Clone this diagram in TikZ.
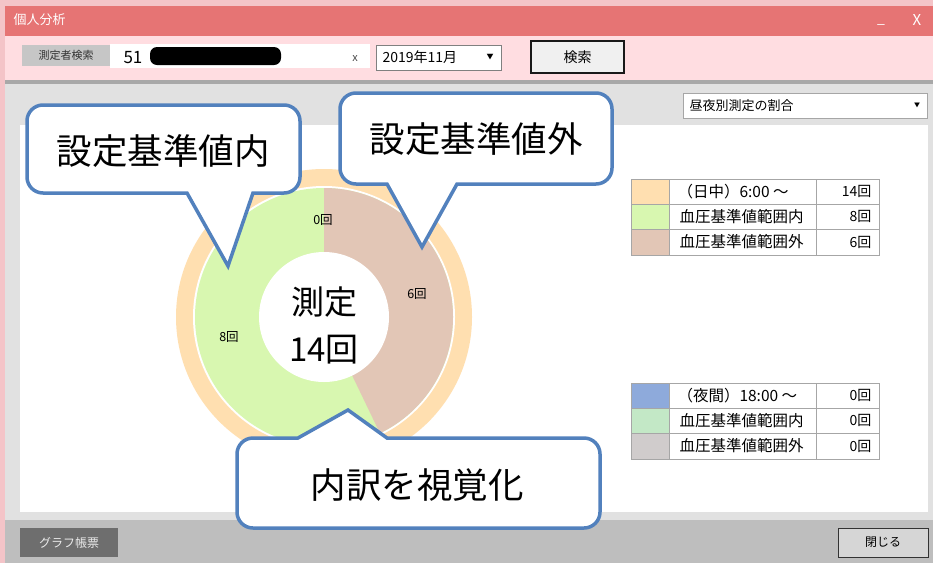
\documentclass[tikz,border=0pt]{standalone}
\usepackage{fontspec}
\setmainfont{Noto Sans CJK JP}
\newcommand{\setfs}[1]{\fontsize{#1}{#1}\selectfont}

\definecolor{framepink}{HTML}{F4C4C8}
\definecolor{titlered}{HTML}{E67474}
\definecolor{searchpink}{HTML}{FFDDE1}
\definecolor{sepgray}{HTML}{A8A8A8}
\definecolor{panelgray}{HTML}{E1E1E1}
\definecolor{bargray}{HTML}{BEBEBE}
\definecolor{ringorange}{HTML}{FFDFB0}
\definecolor{ingreen}{HTML}{D8F7B0}
\definecolor{outbrown}{HTML}{E2C6B6}
\definecolor{nightblue}{HTML}{8EAADB}
\definecolor{nightgreen}{HTML}{C3E8C6}
\definecolor{nightgray}{HTML}{D0CCCC}
\definecolor{calloutblue}{HTML}{5281BD}
\definecolor{gridgray}{HTML}{A6A6A6}

\begin{document}
\begin{tikzpicture}[x=1pt,y=-1pt,
  callout/.style={draw=calloutblue,line width=3.5pt,fill=white},
  bigtxt/.style={font=\setfs{35.5}},
  legtxt/.style={font=\setfs{15.5},anchor=west},
  legnum/.style={font=\setfs{14},anchor=east},
  cnt/.style={font=\setfs{12.5}},
  btn/.style={inner sep=0pt,minimum height=#1}]
\useasboundingbox (0,0) rectangle (933,563);
% window
\fill[framepink] (0,0) rectangle (933,563);
\fill[titlered] (5,6) rectangle (933,36);
\fill[searchpink] (5,36) rectangle (933,80);
\fill[sepgray] (5,80) rectangle (933,84);
\fill[panelgray] (5,84) rectangle (933,520);
\fill[white] (20,125) rectangle (928,512);
\fill[bargray] (5,520) rectangle (933,563);
\draw (10,20) node[anchor=west,text=white,font=\setfs{13}] (title) {個人分析};
\draw (881,24) node[text=white,font=\setfs{14}] (minbtn) {\_};
\draw (917,20) node[text=white,font=\setfs{15}] (xbtn) {X};
% search row
\draw (66,55.5) node[btn=21pt,minimum width=88pt,fill=gray!45,text=black!80,font=\setfs{11}] (searchlbl) {測定者検索};
\draw (240,56) node[btn=24pt,minimum width=260pt,fill=white] (namebox) {};
\draw (120,58) node[anchor=west,font=\setfs{17}] (nameno) {51};
\fill[black,rounded corners=7pt] (150,47) rectangle (281,65);
\draw (355,59) node[text=black!70,font=\setfs{11}] (clearx) {x};
\draw (438.5,57.5) node[btn=25pt,minimum width=125pt,draw=black!50,fill=white] (monthbox) {};
\draw (379,57.5) node[anchor=west,font=\setfs{14}] (month) {2019年11月};
\draw (490,57.5) node[font=\setfs{7}] (monthdrop) {▼};
\draw (577.5,57) node[btn=32pt,minimum width=93pt,draw=black!90,line width=1.5pt,fill=black!6,font=\setfs{14}] (searchbtn) {検索};
% chart selector
\draw (805,105.5) node[btn=25pt,minimum width=244pt,draw=gridgray,fill=white] (viewbox) {};
\draw (686,105.5) node[anchor=west,font=\setfs{13}] (view) {昼夜別測定の割合};
\draw (917,105.5) node[font=\setfs{6}] (viewdrop) {▼};
% donut
\coordinate (c) at (324,317);
\fill[ringorange] (c) circle (148);
\fill[white] (c) circle (131);
\fill[ingreen] (c) circle (129);
\fill[outbrown] (c) -- ++(-90:129) arc (-90:64.29:129) -- cycle;
\fill[white] (c) circle (65);
\draw (323,220) node[cnt] (zero) {0回};
\draw (417,294) node[cnt] (six) {6回};
\draw (229,337) node[cnt] (eight) {8回};
\draw (324,302) node[font=\setfs{33}] (sokutei) {測定};
\draw (324,350) node[font=\setfs{33}] (total) {14回};
% day legend
\fill[ringorange] (631,179) rectangle (669,204);
\fill[ingreen] (631,204) rectangle (669,229);
\fill[outbrown] (631,229) rectangle (669,255);
\draw[gridgray] (631,179) rectangle (879,255) (631,204) -- (879,204) (631,229) -- (879,229)
  (669,179) -- (669,255) (816,179) -- (816,255);
\draw (674,191.5) node[legtxt] (dayhead) {（日中）6:00 ～};
\draw (676,216.5) node[legtxt] (dayin) {血圧基準値範囲内};
\draw (676,242) node[legtxt] (dayout) {血圧基準値範囲外};
\draw (875,191.5) node[legnum] (daytotal) {14回};
\draw (875,216.5) node[legnum] (daynin) {8回};
\draw (875,242) node[legnum] (daynout) {6回};
% night legend
\fill[nightblue] (631,383) rectangle (669,408);
\fill[nightgreen] (631,408) rectangle (669,433);
\fill[nightgray] (631,433) rectangle (669,459);
\draw[gridgray] (631,383) rectangle (879,459) (631,408) -- (879,408) (631,433) -- (879,433)
  (669,383) -- (669,459) (816,383) -- (816,459);
\draw (674,395.5) node[legtxt] (nighthead) {（夜間）18:00 ～};
\draw (676,420.5) node[legtxt] (nightin) {血圧基準値範囲内};
\draw (676,446) node[legtxt] (nightout) {血圧基準値範囲外};
\draw (875,395.5) node[legnum] (nighttotal) {0回};
\draw (875,420.5) node[legnum] (nightnin) {0回};
\draw (875,446) node[legnum] (nightnout) {0回};
% bottom buttons
\draw (69,542.5) node[btn=29pt,minimum width=98pt,fill=black!57,text=black!8,font=\setfs{12}] (reportbtn) {グラフ帳票};
\draw (883,542.5) node[btn=29pt,minimum width=90pt,draw=black!80,fill=black!16,font=\setfs{12}] (closebtn) {閉じる};
% callouts
\draw[callout] (160,105) [rounded corners=16pt] -- (27,105) -- (27,193) [sharp corners] -- (187,193) -- (228,266)
  -- (253,193) [rounded corners=16pt] -- (300,193) -- (300,105) -- cycle;
\draw (163,151) node[bigtxt] (inside) {設定基準値内};
\draw[callout] (470,93) [rounded corners=16pt] -- (340,93) -- (340,184) [sharp corners] -- (387,184) -- (422,247)
  -- (457,184) [rounded corners=16pt] -- (612,184) -- (612,93) -- cycle;
\draw (476,139) node[bigtxt] (outside) {設定基準値外};
\draw[callout] (420,528) [rounded corners=16pt] -- (237,528) -- (237,438) [sharp corners] -- (298,438) -- (348,410)
  -- (387,438) [rounded corners=16pt] -- (600,438) -- (600,528) -- cycle;
\draw (417,485) node[bigtxt] (breakdown) {内訳を視覚化};
\end{tikzpicture}
\end{document}
